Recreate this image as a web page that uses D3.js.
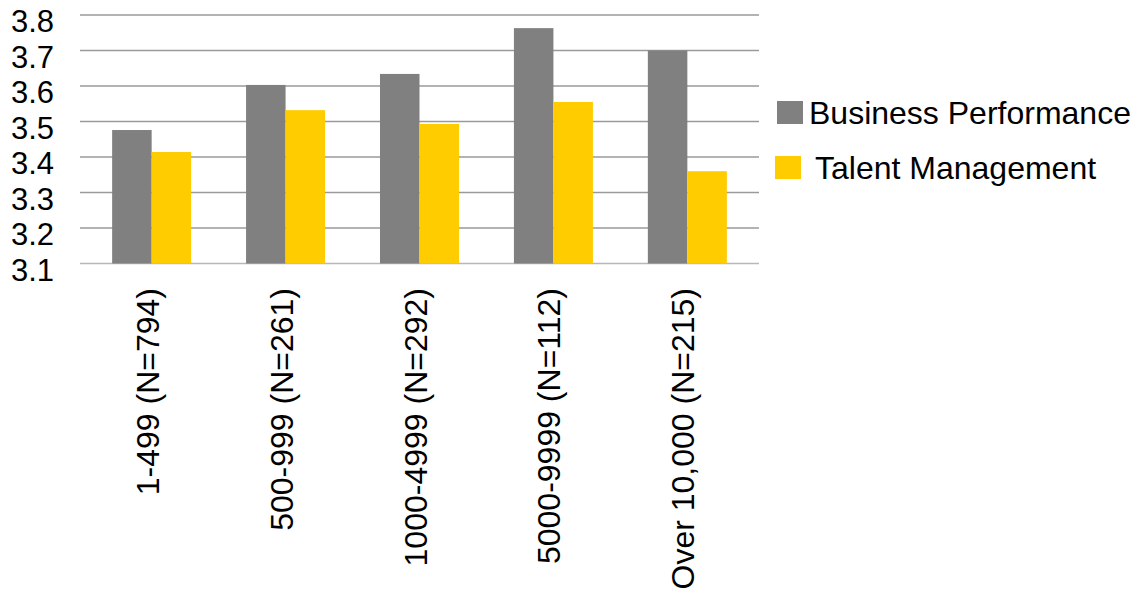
<!DOCTYPE html>
<html>
<head>
<meta charset="utf-8">
<script src="https://cdn.jsdelivr.net/npm/d3@7"></script>
<style>
  body { margin: 0; background: #fff; }
  text { font-family: "Liberation Sans", Arial, sans-serif; fill: #000; }
</style>
</head>
<body>
<div id="chart"></div>
<script>
// Data.
var categories = ['1-499 (N=794)', '500-999 (N=261)', '1000-4999 (N=292)', '5000-9999 (N=112)', 'Over 10,000 (N=215)'];
var seriesNames = ['Business Performance', 'Talent Management'];
var businessPerformance = [3.476, 3.603, 3.634, 3.763, 3.700];
var talentManagement = [3.414, 3.532, 3.493, 3.555, 3.360];
var yTicks = [3.1, 3.2, 3.3, 3.4, 3.5, 3.6, 3.7, 3.8];

var colors = ['#808080', '#ffcc00'];
var width = 1141, height = 589;
var plot = { left: 80, right: 759, top: 15, bottom: 263.5 };

var svg = d3.select('#chart').append('svg')
    .attr('width', width)
    .attr('height', height);

var x0 = d3.scaleBand()
    .domain(categories)
    .range([plot.left, plot.right])
    .paddingInner(0.41)
    .paddingOuter(0.24);

var x1 = d3.scaleBand()
    .domain(seriesNames)
    .range([0, x0.bandwidth()]);

var y = d3.scaleLinear()
    .domain([3.1, 3.8])
    .range([plot.bottom, plot.top]);

// Gridlines.
svg.append('g').selectAll('line')
    .data(yTicks)
    .enter()
    .append('line')
    .attr('x1', plot.left)
    .attr('x2', plot.right)
    .attr('y1', function(d) { return y(d); })
    .attr('y2', function(d) { return y(d); })
    .style('stroke', function(d) { return d === 3.1 ? '#b8b8b8' : '#9a9a9a'; })
    .style('stroke-width', 1.5);

// Y tick labels.
svg.append('g').selectAll('text')
    .data(yTicks)
    .enter()
    .append('text')
    .attr('x', 54)
    .attr('y', function(d) { return y(d); })
    .attr('dy', 17)
    .style('text-anchor', 'end')
    .style('font-size', '31px')
    .text(function(d) { return d.toFixed(1); });

// Bars.
var rows = categories.map(function(c, i) {
    return { cat: c, values: [businessPerformance[i], talentManagement[i]] };
});

var group = svg.append('g').selectAll('g')
    .data(rows)
    .enter()
    .append('g')
    .attr('transform', function(d) { return 'translate(' + x0(d.cat) + ',0)'; });

group.selectAll('rect')
    .data(function(d) { return d.values.map(function(v, j) { return { name: seriesNames[j], value: v, idx: j }; }); })
    .enter()
    .append('rect')
    .attr('x', function(d) { return x1(d.name); })
    .attr('width', x1.bandwidth())
    .attr('y', function(d) { return y(d.value); })
    .attr('height', function(d) { return y(3.1) - y(d.value); })
    .style('fill', function(d) { return colors[d.idx]; });

// X labels, rotated.
svg.append('g').selectAll('text')
    .data(categories)
    .enter()
    .append('text')
    .attr('transform', function(d) {
        return 'translate(' + (x0(d) + x0.bandwidth() / 2 + 7) + ',288) rotate(-90)';
    })
    .style('text-anchor', 'end')
    .style('font-size', '32px')
    .text(function(d) { return d; });

// Legend.
var legendPos = [{ sx: 777, sy: 101, tx: 809, ty: 124 }, { sx: 775, sy: 156, tx: 815, ty: 179 }];
var legend = svg.append('g').selectAll('g')
    .data(seriesNames)
    .enter()
    .append('g');

legend.append('rect')
    .attr('x', function(d, i) { return legendPos[i].sx; })
    .attr('y', function(d, i) { return legendPos[i].sy; })
    .attr('width', 26)
    .attr('height', 23)
    .style('fill', function(d, i) { return colors[i]; });

legend.append('text')
    .attr('x', function(d, i) { return legendPos[i].tx; })
    .attr('y', function(d, i) { return legendPos[i].ty; })
    .style('font-size', '32px')
    .text(function(d) { return d; });
</script>
</body>
</html>
